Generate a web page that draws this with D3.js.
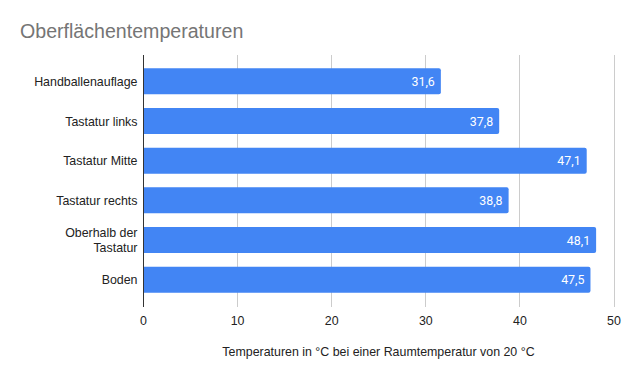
<!DOCTYPE html>
<html><head><meta charset="utf-8">
<script src="https://cdn.jsdelivr.net/npm/d3@7"></script>
<style>body{margin:0;background:#fff}svg{display:block}</style>
</head><body><svg id="c" width="633" height="378"></svg>
<script>
const categories = ["Handballenauflage", "Tastatur links", "Tastatur Mitte", "Tastatur rechts", "Oberhalb der Tastatur", "Boden"];
const values = [31.6, 37.8, 47.1, 38.8, 48.1, 47.5];
const xTicks = [0, 10, 20, 30, 40, 50];
const title = "Oberflächentemperaturen";
const xTitle = "Temperaturen in °C bei einer Raumtemperatur von 20 °C";

const svg = d3.select("#c");
const x = d3.scaleLinear().domain([0, 50]).range([143.5, 614]);
const y = d3.scaleBand().domain(categories).range([61.5, 299.5]).paddingInner(0.345).paddingOuter(0.1725);
const gTop = 55, gBot = 307;
const font = "Liberation Sans, Arial, sans-serif";

svg.append("text").attr("x", 20).attr("y", 38).text(title)
  .attr("font-family", font).attr("font-size", 19.6).attr("fill", "#757575");

// gridlines
svg.append("g").selectAll("line").data(xTicks.filter(d => d !== 0)).join("line")
  .attr("x1", d => x(d)).attr("x2", d => x(d)).attr("y1", gTop).attr("y2", gBot)
  .attr("stroke", "#cccccc").attr("stroke-width", 1).attr("shape-rendering", "crispEdges");

// bars
const bw = y.bandwidth();
svg.append("g").selectAll("path").data(categories).join("path")
  .attr("d", (c, i) => {
    const x0 = x(0), x1 = x(values[i]), y0 = y(c), r = 2;
    return `M${x0},${y0}H${x1 - r}Q${x1},${y0} ${x1},${y0 + r}V${y0 + bw - r}Q${x1},${y0 + bw} ${x1 - r},${y0 + bw}H${x0}Z`;
  })
  .attr("fill", "#4285f4");

// value labels
svg.append("g").selectAll("text").data(categories).join("text")
  .attr("x", (c, i) => x(values[i]) - 6).attr("y", c => y(c) + bw / 2 + 4.5)
  .attr("text-anchor", "end").attr("font-family", "Roboto, sans-serif").attr("font-size", 12.4)
  .attr("fill", "#ffffff").text((c, i) => d3.format(".1f")(values[i]).replace(".", ","));

// axis line
svg.append("line").attr("x1", x(0)).attr("x2", x(0)).attr("y1", gTop).attr("y2", gBot)
  .attr("stroke", "#333333").attr("stroke-width", 1).attr("shape-rendering", "crispEdges");

// category labels
const cat = svg.append("g").attr("font-family", font).attr("font-size", 12.4).attr("fill", "#222222");
categories.forEach(c => {
  const cy = y(c) + bw / 2;
  const lines = c === "Oberhalb der Tastatur" ? ["Oberhalb der", "Tastatur"] : [c];
  const lh = 15;
  lines.forEach((l, j) => {
    cat.append("text").attr("x", 137.5).attr("y", cy + 4.5 + (j - (lines.length - 1) / 2) * lh)
      .attr("text-anchor", "end").text(l);
  });
});

// x tick labels
svg.append("g").selectAll("text").data(xTicks).join("text")
  .attr("x", d => x(d)).attr("y", 324.5).attr("text-anchor", "middle")
  .attr("font-family", font).attr("font-size", 12.4).attr("fill", "#222222")
  .text(d => d);

svg.append("text").attr("x", 378.5).attr("y", 356).attr("text-anchor", "middle")
  .attr("font-family", font).attr("font-size", 12.4).attr("fill", "#222222")
  .text(xTitle);
</script></body></html>
